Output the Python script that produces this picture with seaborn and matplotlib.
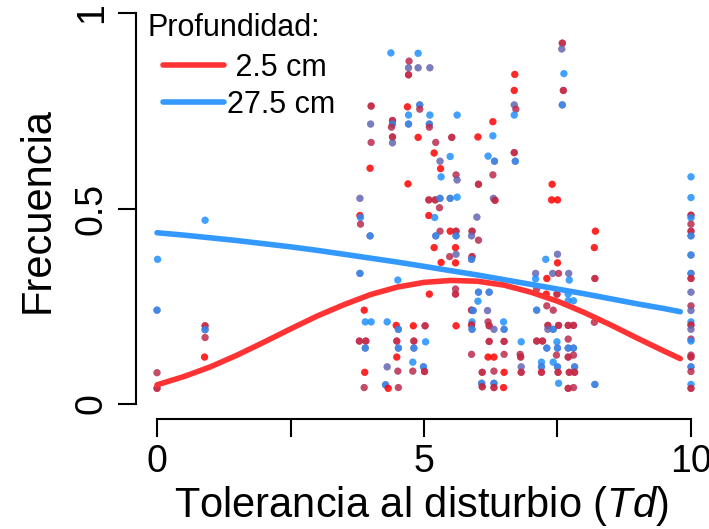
import matplotlib
matplotlib.use("Agg")
import matplotlib.pyplot as plt
from matplotlib.lines import Line2D
import pandas as pd
import seaborn as sns

# Frecuencia de cada especie según su tolerancia al disturbio (Td).
# capas: orden en que se apilan los puntos en cada posición
# ("r" = 2.5 cm, "b" = 27.5 cm).
td = [
    0.01, 0.0, 0.0, 0.0,
    0.90, 0.90, 0.90, 0.90, 0.89,
    4.38, 4.89, 4.72, 4.71, 4.89, 5.11, 4.71, 4.01, 4.69, 4.92, 4.92,
    4.71, 5.11, 5.62, 4.00, 4.41, 4.41, 4.39, 4.71, 5.10, 5.10,
    4.41, 4.41, 4.89, 4.01, 5.22, 5.52, 5.19, 5.49, 5.30, 3.99,
    5.31, 5.32, 5.60, 5.62, 4.70, 3.80, 5.09, 5.21, 5.30, 5.29,
    5.49, 5.62, 3.80, 3.81, 5.09, 5.20,
    3.81, 3.99, 5.30, 5.49, 5.60, 5.22, 5.60, 5.19, 5.59, 5.48,
    5.60, 5.32, 5.59, 3.80, 4.51, 5.10, 5.59, 5.59, 3.88, 3.90,
    4.01, 4.31, 4.48, 4.52, 4.80, 5.02, 5.60, 3.79, 3.91, 3.90,
    4.49, 4.52, 4.81, 4.81, 5.03, 4.49, 4.79, 4.99, 4.31, 4.51,
    4.79, 5.01, 3.89, 3.88, 4.28, 4.33, 4.52,
    7.59, 7.58, 6.70, 7.62, 6.69, 7.61, 6.69, 6.72, 6.69, 7.59,
    6.29, 6.01, 6.29, 6.20, 6.32, 6.69, 6.71, 6.29, 6.02, 7.40,
    6.30, 6.33, 7.39, 7.50, 5.99,
    5.90, 5.89, 6.02, 5.90, 5.89, 6.02, 6.22, 6.01, 5.89, 5.92,
    6.19, 5.90, 5.89, 5.90, 6.20, 6.22, 6.31, 6.49, 6.50, 6.22,
    6.50, 6.82, 5.89, 6.20, 6.31, 6.50, 6.80, 6.81, 6.82, 6.09,
    6.31, 6.50, 6.82, 6.08, 6.09, 6.31, 6.31, 6.49,
    7.09, 7.09, 7.28, 7.30, 7.50, 7.50, 7.41, 7.52, 7.71, 7.72,
    7.11, 7.29, 7.49, 7.70, 7.70, 7.80, 7.30, 7.42, 7.11, 7.32,
    7.32, 7.42, 7.52, 7.70, 7.80, 7.11, 7.22, 7.30, 7.49, 7.50,
    7.70, 7.70, 7.80, 7.48, 7.70, 7.80, 7.20, 7.20, 7.42, 7.50,
    7.82, 7.20, 7.51, 7.72, 7.82, 7.52, 7.70, 7.80,
    8.21, 8.19, 8.20, 8.19, 8.20,
    10.0, 10.0, 10.0, 10.0, 10.0, 10.0, 10.0, 10.0, 10.0, 10.0,
    10.0, 10.0, 10.0, 10.0, 10.0, 10.0, 10.0, 10.0, 10.0, 10.0,
    10.0, 10.0, 10.0, 10.0,
]
frecuencia = [
    0.37, 0.24, 0.08, 0.04,
    0.47, 0.20, 0.19, 0.17, 0.12,
    0.898, 0.897, 0.877, 0.86, 0.86, 0.86, 0.842, 0.762, 0.76, 0.765, 0.754,
    0.739, 0.739, 0.739, 0.716, 0.725, 0.716, 0.708, 0.716, 0.716, 0.708,
    0.683, 0.668, 0.682, 0.669, 0.669, 0.682, 0.642, 0.633, 0.621, 0.603,
    0.602, 0.581, 0.586, 0.573, 0.563, 0.526, 0.522, 0.522, 0.526, 0.502,
    0.526, 0.529, 0.482, 0.477, 0.482, 0.477,
    0.46, 0.43, 0.442, 0.442, 0.442, 0.43, 0.43, 0.40, 0.40, 0.377,
    0.383, 0.362, 0.361, 0.334, 0.317, 0.281, 0.294, 0.281, 0.24, 0.21,
    0.21, 0.21, 0.201, 0.191, 0.20, 0.20, 0.20, 0.161, 0.161, 0.143,
    0.161, 0.143, 0.161, 0.143, 0.159, 0.12, 0.107, 0.095, 0.095, 0.084,
    0.084, 0.083, 0.081, 0.042, 0.049, 0.04, 0.042,
    0.923, 0.908, 0.843, 0.845, 0.802, 0.802, 0.765, 0.754, 0.739, 0.765,
    0.722, 0.683, 0.686, 0.634, 0.621, 0.643, 0.621, 0.586, 0.562, 0.562,
    0.526, 0.521, 0.522, 0.522, 0.478,
    0.442, 0.43, 0.419, 0.377, 0.37, 0.286, 0.286, 0.263, 0.24, 0.239,
    0.239, 0.21, 0.202, 0.191, 0.21, 0.20, 0.191, 0.21, 0.191, 0.16,
    0.16, 0.159, 0.127, 0.12, 0.12, 0.127, 0.127, 0.12, 0.095, 0.081,
    0.084, 0.081, 0.081, 0.053, 0.044, 0.053, 0.042, 0.042,
    0.334, 0.32, 0.37, 0.321, 0.383, 0.361, 0.334, 0.334, 0.334, 0.317,
    0.294, 0.281, 0.281, 0.281, 0.264, 0.264, 0.251, 0.24, 0.24, 0.201,
    0.191, 0.191, 0.201, 0.201, 0.201, 0.161, 0.161, 0.143, 0.159, 0.143,
    0.166, 0.143, 0.143, 0.125, 0.12, 0.125, 0.107, 0.095, 0.107, 0.095,
    0.095, 0.081, 0.081, 0.081, 0.081, 0.053, 0.04, 0.042,
    0.442, 0.40, 0.321, 0.209, 0.05,
    0.581, 0.528, 0.483, 0.476, 0.46, 0.442, 0.43, 0.381, 0.334, 0.321,
    0.286, 0.251, 0.239, 0.21, 0.202, 0.191, 0.166, 0.161, 0.125, 0.12,
    0.095, 0.083, 0.05, 0.04,
]
capas = [
    "bb", "rbb", "br", "rbr",
    "bb", "rbr", "rbb", "br", "rr",
    "bb", "bb", "br", "rb", "rb", "rb", "rbr", "rbr", "rr", "rbb", "br",
    "bb", "bb", "bb", "rb", "rbr", "rbb", "br", "rbb", "rbb", "br",
    "rbr", "rb", "rr", "br", "br", "rbr", "rr", "bb", "rb", "rr",
    "rr", "bb", "br", "rb", "rr", "rb", "rbr", "rbr", "rbb", "br",
    "rbb", "bb", "rr", "bb", "rr", "bb",
    "br", "rbb", "br", "rr", "rbr", "rbb", "rbb", "rr", "rr", "br",
    "rb", "rr", "rr", "rbb", "bb", "rr", "br", "rbr", "rr", "bb",
    "bb", "bb", "rr", "rbb", "rr", "rbr", "rr", "rbr", "rbr", "rbb",
    "rbr", "rbb", "rbr", "rbb", "bb", "rr", "bb", "rbb", "rb", "br",
    "br", "rbr", "rr", "br", "rbb", "rr", "br",
    "rbr", "rb", "rr", "bb", "rr", "rbr", "rb", "br", "bb", "rbb",
    "rr", "rr", "bb", "bb", "rbb", "rbr", "rbb", "br", "rbr", "rr",
    "rb", "rbr", "rr", "rr", "rb",
    "rbr", "rb", "br", "rbr", "rbb", "rbb", "rbb", "bb", "rbr", "rbb",
    "rb", "bb", "rbr", "rbb", "br", "rbr", "rb", "bb", "rbb", "rbr",
    "rbr", "bb", "br", "rr", "rr", "br", "br", "rbr", "rb", "rbr",
    "br", "rr", "rbr", "rbb", "rbr", "rbb", "rbr", "rr",
    "rb", "bb", "bb", "rr", "rb", "rr", "rb", "br", "rb", "bb",
    "br", "rr", "rbr", "bb", "bb", "bb", "br", "br", "rbb", "rbr",
    "rb", "rbb", "rbr", "rbr", "rbr", "rbr", "rbr", "rbb", "bb", "rbb",
    "br", "rbb", "rbb", "br", "rbr", "br", "bb", "rbb", "bb", "rbb",
    "rbb", "rbr", "rbr", "rbr", "rbr", "bb", "rbr", "br",
    "rr", "rr", "rbr", "br", "rbb",
    "bb", "bb", "rbr", "bb", "br", "rbr", "rbb", "rbb", "rbb", "rbr",
    "rb", "br", "rb", "bb", "rbr", "rb", "br", "bb", "br", "rbr",
    "rbb", "br", "bb", "rbr",
]

# Curvas ajustadas para cada profundidad
curva_td = [0, 0.5, 1, 1.5, 2, 2.5, 3, 3.5, 4, 4.5, 5, 5.5, 6, 6.5, 7,
            7.5, 8, 8.5, 9, 9.5, 9.8]
curva_2_5 = [0.049, 0.070, 0.095, 0.125, 0.158, 0.192, 0.225, 0.254, 0.280,
             0.299, 0.311, 0.316, 0.314, 0.304, 0.286, 0.263, 0.234, 0.202,
             0.168, 0.135, 0.116]
curva_27_5 = [0.438, 0.432, 0.425, 0.418, 0.410, 0.402, 0.393, 0.383, 0.373,
              0.363, 0.352, 0.341, 0.330, 0.318, 0.306, 0.294, 0.282, 0.269,
              0.256, 0.244, 0.236]

etiquetas = {"r": "2.5 cm", "b": "27.5 cm"}
rojo, azul = "#FF0000", "#1E90FF"
rojo_linea, azul_linea = "#FF3333", "#3399FF"

filas = []
for x, y, c in zip(td, frecuencia, capas):
    for ch in c:
        filas.append({"td": x, "frec": y, "prof": etiquetas[ch]})
puntos = pd.DataFrame(filas)
curvas = pd.DataFrame({
    "td": curva_td * 2,
    "frec": curva_2_5 + curva_27_5,
    "prof": ["2.5 cm"] * len(curva_td) + ["27.5 cm"] * len(curva_td),
})

sns.set_style("ticks")
plt.rcParams["font.family"] = ["Liberation Sans", "DejaVu Sans"]
plt.rcParams["mathtext.fontset"] = "custom"
plt.rcParams["mathtext.rm"] = "Liberation Sans"
plt.rcParams["mathtext.it"] = "Liberation Sans:italic"
for k in ("text.color", "axes.labelcolor", "xtick.color", "ytick.color",
          "axes.edgecolor"):
    plt.rcParams[k] = "black"

W, H = 709, 529
fig = plt.figure(figsize=(W / 100, H / 100), dpi=100)
ax = fig.add_axes([136.2 / W, 110 / H, (707 - 136.2) / W, (419 - 1.3) / H])

sns.scatterplot(data=puntos, x="td", y="frec", hue="prof",
                palette={"2.5 cm": rojo, "27.5 cm": azul},
                alpha=0.6, s=27, linewidth=0, legend=False, ax=ax, zorder=2)
sns.lineplot(data=curvas[curvas.prof == "27.5 cm"], x="td", y="frec",
             color=azul_linea, lw=4, ax=ax, zorder=3,
             solid_capstyle="round")
sns.lineplot(data=curvas[curvas.prof == "2.5 cm"], x="td", y="frec",
             color=rojo_linea, lw=4, ax=ax, zorder=4,
             solid_capstyle="round")

ax.set_xlim(-0.39, 10.3)
ax.set_ylim(-0.0384, 1.03)
for s in ("top", "right"):
    ax.spines[s].set_visible(False)
ax.spines["left"].set_bounds(0, 1)
ax.spines["bottom"].set_bounds(0, 10)
for s in ("left", "bottom"):
    ax.spines[s].set_linewidth(1.5)
    ax.spines[s].set_color("black")

ax.set_xticks([0, 2.5, 5, 7.5, 10])
ax.set_xticklabels(["0", "", "5", "", "10"])
ax.set_yticks([0, 0.5, 1])
ax.set_yticklabels(["0", "0.5", "1"], rotation=90, va="center")
ax.tick_params(axis="both", length=13, width=1.5, color="black",
               labelcolor="black", labelsize=27, direction="out")
ax.tick_params(axis="x", pad=5)
ax.tick_params(axis="y", pad=6)

ax.set_xlabel("Tolerancia al disturbio ($\\it{Td}$)", fontsize=30,
              labelpad=3)
ax.set_ylabel("Frecuencia", fontsize=30, labelpad=12)

fig.text(148 / W, 1 - 28 / H, "Profundidad:", fontsize=22,
         ha="left", va="center")
handles = [Line2D([], [], color=rojo_linea, lw=4, solid_capstyle="round"),
           Line2D([], [], color=azul_linea, lw=4, solid_capstyle="round")]
fig.legend(handles, [" 2.5 cm", "27.5 cm"], loc="upper left",
           bbox_to_anchor=(163 / W, 1 - 53 / H), frameon=False,
           fontsize=22, handlelength=2.0, handletextpad=0.1,
           labelspacing=0.22, borderpad=0, borderaxespad=0)

fig.savefig("out.png", dpi=100)
